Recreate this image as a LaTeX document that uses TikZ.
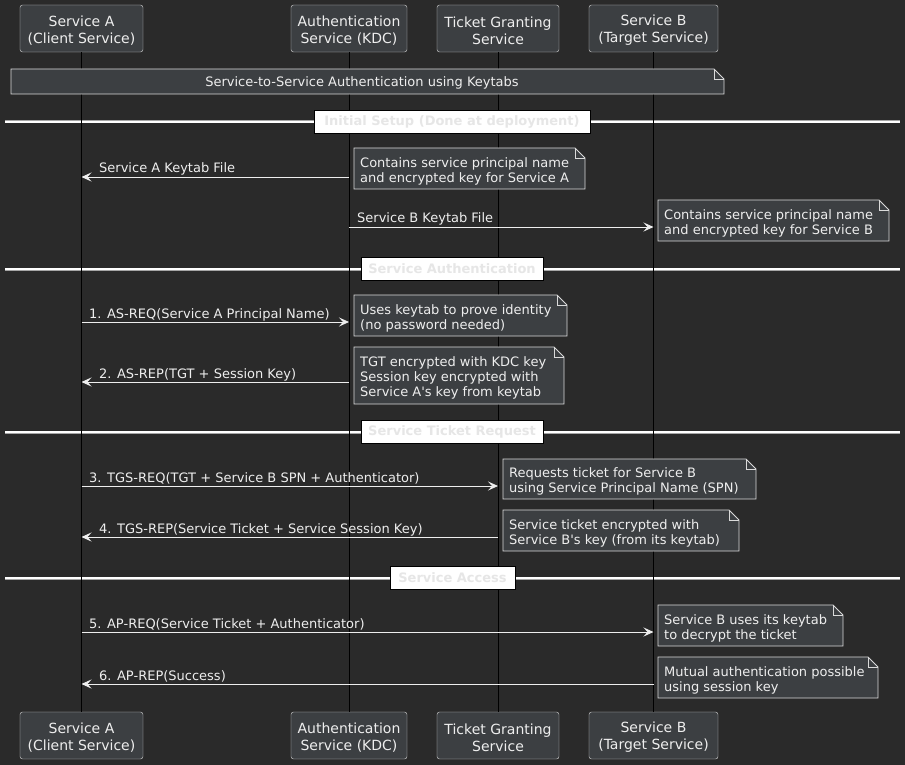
\documentclass[tikz,border=0pt]{standalone}
\usepackage{fontspec}
\setmainfont{DejaVu Sans}
\usetikzlibrary{calc,arrows.meta}
\definecolor{bgcol}{HTML}{2A2A2A}
\definecolor{boxcol}{HTML}{3C3F42}
\definecolor{edgecol}{HTML}{DADADA}
\definecolor{inkcol}{HTML}{EEEEEE}
\definecolor{sepink}{HTML}{E6E6E6}
\tikzset{
  part/.style={draw=edgecol, fill=boxcol, rounded corners=2.5pt, inner sep=0pt, minimum height=47pt},
  parttext/.style={text=inkcol, align=center, inner sep=0pt, yshift=-2pt, font=\fontsize{14}{17}\selectfont},
  life/.style={black, line width=0.8pt},
  msg/.style={draw=inkcol, line width=0.8pt, -{Stealth[length=10pt,width=9pt,inset=4pt]}},
  lbl/.style={text=inkcol, inner sep=0pt, anchor=base west, font=\fontsize{13}{15}\selectfont},
  notetext/.style={text=inkcol, align=left, inner xsep=6pt, inner ysep=0pt, yshift=-2.5pt, font=\fontsize{13}{15}\selectfont},
  sepline/.style={draw=gray!70, double=white, double distance=2pt, line width=0.5pt},
  seplbl/.style={draw=black, fill=white, text=sepink, line width=0.8pt, inner sep=0pt,
    minimum height=23pt, font=\fontsize{13}{15}\selectfont\bfseries},
}
% note with folded corner: name, top left, width:height, text
\def\notebox[#1](#2)(#3:#4)#5{%
  \fill[boxcol, draw=edgecol, line width=0.8pt] (#2) -- ++(#3-10,0) -- ++(10,10) -- ++(0,#4-10) -- ++(-#3,0) -- cycle;
  \draw[edgecol, line width=0.8pt] (#2) ++(#3-10,0) |- ++(10,10);
  \node[notetext, anchor=north west, minimum height=#4pt] (#1) at (#2) {#5};
}

\begin{document}
\begin{tikzpicture}[x=1pt, y=-1pt]
  %%%%% START %%%%%
  \useasboundingbox[fill=bgcol] (0,0) rectangle (905,765);

  % participants
  \node[part, minimum width=123pt, label={[parttext]center:{Service A\\(Client Service)}}] (sa) at (81.5,28.5) {};
  \node[part, minimum width=116pt, label={[parttext]center:{Authentication\\Service (KDC)}}] (as) at (349,28.5) {};
  \node[part, minimum width=122pt, label={[parttext]center:{Ticket Granting\\Service}}] (tgs) at (498,28.5) {};
  \node[part, minimum width=129pt, label={[parttext]center:{Service B\\(Target Service)}}] (sb) at (653.5,28.5) {};

  \node[part, minimum width=123pt, label={[parttext]center:{Service A\\(Client Service)}}] (sa2) at (81.5,735.5) {};
  \node[part, minimum width=116pt, label={[parttext]center:{Authentication\\Service (KDC)}}] (as2) at (349,735.5) {};
  \node[part, minimum width=122pt, label={[parttext]center:{Ticket Granting\\Service}}] (tgs2) at (498,735.5) {};
  \node[part, minimum width=129pt, label={[parttext]center:{Service B\\(Target Service)}}] (sb2) at (653.5,735.5) {};

  % separators
  \draw[sepline] (5,122) -- (900,122);
  \draw[sepline] (5,269) -- (900,269);
  \draw[sepline] (5,432) -- (900,432);
  \draw[sepline] (5,578) -- (900,578);

  % lifelines
  \draw[life] (sa.south) -- (sa2.north);
  \draw[life] (as.south) -- (as2.north);
  \draw[life] (tgs.south) -- (tgs2.north);
  \draw[life] (sb.south) -- (sb2.north);

  \node[seplbl, minimum width=276pt] (s1) at (452,121.5) {Initial Setup (Done at deployment)};
  \node[seplbl, minimum width=182pt] (s2) at (452,268.5) {Service Authentication};
  \node[seplbl, minimum width=182pt] (s3) at (452,431.5) {Service Ticket Request};
  \node[seplbl, minimum width=125pt] (s4) at (452.5,578) {Service Access};

  % title note
  \fill[boxcol, draw=edgecol, line width=0.8pt] (11,69) -- (714,69) -- (724,79) -- (724,94) -- (11,94) -- cycle;
  \draw[edgecol, line width=0.8pt] (714,69) |- (724,79);
  \node[notetext] (title) at (362,80) {Service-to-Service Authentication using Keytabs};

  % initial setup
  \draw[msg] (as |- 0,177) -- (sa |- 0,177);
  \node[lbl] (l1) at (99,172) {Service A Keytab File};
  \notebox[n1](354,148)(231:41){Contains service principal name\\and encrypted key for Service A}

  \draw[msg] (as |- 0,227) -- (sb |- 0,227);
  \node[lbl] (l2) at (357,222) {Service B Keytab File};
  \notebox[n2](658,200)(231:41){Contains service principal name\\and encrypted key for Service B}

  % authentication
  \draw[msg] (sa |- 0,322) -- (as |- 0,322);
  \node[lbl] (l3) at (89,318) {1. AS-REQ(Service A Principal Name)};
  \notebox[n3](354,295)(213:41){Uses keytab to prove identity\\(no password needed)}

  \draw[msg] (as |- 0,382) -- (sa |- 0,382);
  \node[lbl] (l4) at (99,378) {2. AS-REP(TGT + Session Key)};
  \notebox[n4](354,347)(210:57){TGT encrypted with KDC key\\Session key encrypted with\\Service A\textquotesingle s key from keytab}

  % ticket request
  \draw[msg] (sa |- 0,486) -- (tgs |- 0,486);
  \node[lbl] (l5) at (89,482) {3. TGS-REQ(TGT + Service B SPN + Authenticator)};
  \notebox[n5](503,459)(253:40){Requests ticket for Service B\\using Service Principal Name (SPN)}

  \draw[msg] (tgs |- 0,537) -- (sa |- 0,537);
  \node[lbl] (l6) at (99,533) {4. TGS-REP(Service Ticket + Service Session Key)};
  \notebox[n6](503,510)(236:41){Service ticket encrypted with\\Service B\textquotesingle s key (from its keytab)}

  % access
  \draw[msg] (sa |- 0,632) -- (sb |- 0,632);
  \node[lbl] (l7) at (89,628) {5. AP-REQ(Service Ticket + Authenticator)};
  \notebox[n7](658,605)(185:41){Service B uses its keytab\\to decrypt the ticket}

  \draw[msg] (sb |- 0,684) -- (sa |- 0,684);
  \node[lbl] (l8) at (99,680) {6. AP-REP(Success)};
  \notebox[n8](658,657)(220:41){Mutual authentication possible\\using session key}
  %%%%% END %%%%%
\end{tikzpicture}
\end{document}
